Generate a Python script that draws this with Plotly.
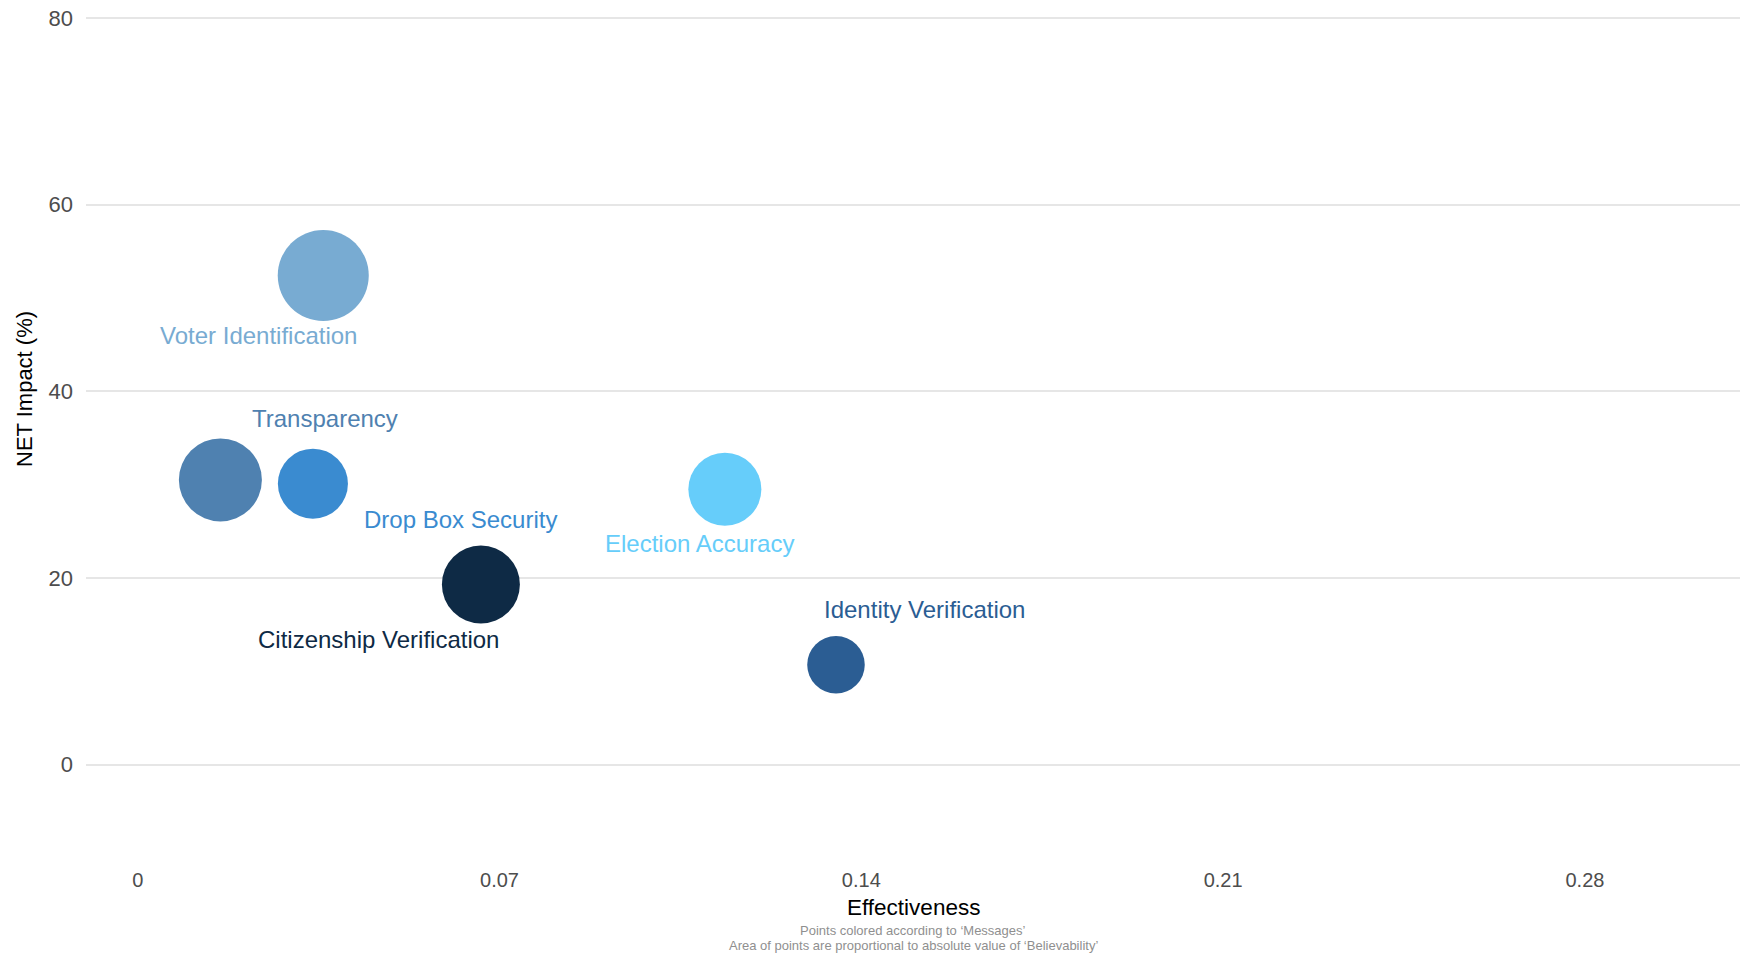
import plotly.graph_objects as go
import numpy as np

# ---- data ----
messages = ["Voter Identification", "Transparency", "Drop Box Security",
            "Citizenship Verification", "Election Accuracy", "Identity Verification"]
effectiveness = [0.0359, 0.0160, 0.0339, 0.0664, 0.1136, 0.1351]
net_impact = [52.4, 30.5, 30.1, 19.3, 29.5, 10.7]
believability = [0.41, 0.341, 0.243, 0.301, 0.264, 0.164]
x_ticks = [0, 0.07, 0.14, 0.21, 0.28]
x_tick_labels = ["0", "0.07", "0.14", "0.21", "0.28"]
y_ticks = [0, 20, 40, 60, 80]

# ---- styles ----
colors = ["#78abd2", "#4f81b0", "#3a8bd0", "#0e2a45", "#66cdfa", "#2b5d93"]
label_dx = [-65, 105, 148, -102, -25, 89]
label_dy = [-60, 61, -36, -55, -54, 55]
FONT = "Arial, Liberation Sans, sans-serif"
MAX_DIAM = 91

W, H = 1740, 955
ML, MR, MT, MB = 86, 0, 16, 97
PW, PH = W - ML - MR, H - MT - MB

sizes = np.abs(np.array(believability))
sizeref = 2.0 * sizes.max() / (MAX_DIAM ** 2)

fig = go.Figure()
fig.add_trace(go.Scatter(
    x=effectiveness, y=net_impact, mode="markers",
    marker=dict(size=sizes, sizemode="area", sizeref=sizeref, color=colors,
                opacity=1, line=dict(width=0)),
    text=messages, hoverinfo="text", showlegend=False,
))

for m, xv, yv, c, dx, dy in zip(messages, effectiveness, net_impact, colors, label_dx, label_dy):
    fig.add_annotation(x=xv, y=yv, text=m, showarrow=False, xshift=dx, yshift=dy,
                       font=dict(family=FONT, size=24, color=c))

def px_to_paper_y(py):
    return (H - MB - py) / PH

def px_to_paper_x(px):
    return (px - ML) / PW

fig.add_annotation(xref="paper", yref="paper", x=0.5, y=px_to_paper_y(907),
                   text="Effectiveness", showarrow=False, xanchor="center", yanchor="middle",
                   font=dict(family=FONT, size=22.5, color="#000000"))
fig.add_annotation(xref="paper", yref="paper", x=0.5, y=px_to_paper_y(930),
                   text="Points colored according to \u2018Messages\u2019", showarrow=False,
                   xanchor="center", yanchor="middle",
                   font=dict(family=FONT, size=13, color="#8f8f8f"))
fig.add_annotation(xref="paper", yref="paper", x=0.5, y=px_to_paper_y(946),
                   text="Area of points are proportional to absolute value of \u2018Believability\u2019",
                   showarrow=False, xanchor="center", yanchor="middle",
                   font=dict(family=FONT, size=13, color="#8f8f8f"))
fig.add_annotation(xref="paper", yref="paper", x=px_to_paper_x(24), y=px_to_paper_y(389),
                   text="NET Impact (%)", showarrow=False, textangle=-90,
                   xanchor="center", yanchor="middle",
                   font=dict(family=FONT, size=22, color="#000000"))

fig.update_layout(
    width=W, height=H,
    margin=dict(l=ML, r=MR, t=MT, b=MB, pad=0),
    paper_bgcolor="white", plot_bgcolor="white",
    xaxis=dict(range=[-0.01, 0.31], tickvals=x_ticks, ticktext=x_tick_labels,
               showgrid=False, zeroline=False, showline=False, ticks="",
               tickfont=dict(family=FONT, size=20, color="#4d4d4d"),
               ticklabelstandoff=8),
    yaxis=dict(range=[-10, 80.2], tickvals=y_ticks, showgrid=True, gridcolor="#e6e6e6",
               gridwidth=2, zeroline=False, showline=False, ticks="",
               tickfont=dict(family=FONT, size=22, color="#4d4d4d"),
               ticklabelstandoff=12),
)

fig.write_html("out.html", config={"displayModeBar": False},
               post_script="document.body.style.margin='0';document.body.style.overflow='hidden';")
